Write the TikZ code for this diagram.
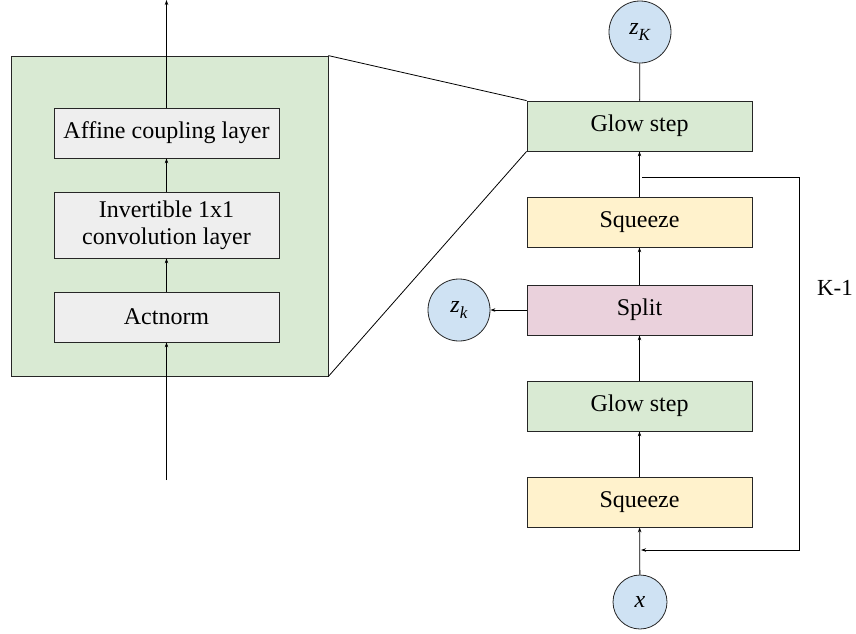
\documentclass[tikz,border=0pt]{standalone}
\usepackage{fontspec}
\setmainfont{Liberation Serif}
\usetikzlibrary{arrows.meta}

\definecolor{glowgreen}{HTML}{D9EAD3}
\definecolor{layergray}{HTML}{EEEEEE}
\definecolor{squeezeyellow}{HTML}{FFF2CC}
\definecolor{splitpink}{HTML}{EAD1DC}
\definecolor{varblue}{HTML}{CFE2F3}

\newcommand{\latent}[1]{\textit{z}\raisebox{-0.6ex}{\fontsize{17}{17}\selectfont\textit{#1}}}

\begin{document}
\begin{tikzpicture}[x=1pt,y=-1pt,
    box/.style={rectangle,draw=black!85,line width=0.8pt,inner sep=0pt,
                font=\fontsize{24}{27}\selectfont,align=center},
    layer/.style={box,fill=layergray,minimum width=225pt,minimum height=50pt},
    unit/.style={box,minimum width=225pt,minimum height=50pt},
    var/.style={circle,draw=black!85,line width=0.8pt,fill=varblue,inner sep=0pt,
                font=\fontsize{24}{24}\selectfont},
    flow/.style={-{Stealth[length=5pt,width=3.5pt]},line width=0.8pt},
    ]
    \useasboundingbox (0,0) rectangle (856,633);
    % zoomed glow step
    \node[box,fill=glowgreen,minimum width=317pt,minimum height=320pt] (stepbox) at (169.5,216) {};
    \node[layer] (affine) at (166.5,133) {Affine coupling layer};
    \node[layer,minimum height=66pt] (conv) at (166.5,225) {Invertible 1x1\\convolution layer};
    \node[layer] (actnorm) at (166.5,317) {Actnorm};
    \coordinate (in) at (166.5,480);
    \coordinate (out) at (166.5,0);
    \draw[flow] (in) -- (actnorm);
    \draw[flow] (actnorm) -- (conv);
    \draw[flow] (conv) -- (affine);
    \draw[flow] (affine) -- (out);

    % multi-scale architecture
    \node[var,minimum size=62pt] (zK) at (640,32) {\latent{K}};
    \node[unit,fill=glowgreen] (glowA) at (639.5,126) {Glow step};
    \node[unit,fill=squeezeyellow] (squeezeA) at (639.5,222) {Squeeze};
    \node[unit,fill=splitpink] (split) at (639.5,310) {Split};
    \node[var,minimum size=62pt] (zk) at (459,310) {\latent{k}};
    \node[unit,fill=glowgreen] (glowB) at (639.5,406) {Glow step};
    \node[unit,fill=squeezeyellow] (squeezeB) at (639.5,502) {Squeeze};
    \node[var,minimum size=54pt] (x) at (640,602) {\textit{x}};
    \draw[flow] (x) -- (squeezeB);
    \draw[flow] (squeezeB) -- (glowB);
    \draw[flow] (glowB) -- (split);
    \draw[flow] (split) -- (zk);
    \draw[flow] (split) -- (squeezeA);
    \draw[flow] (squeezeA) -- (glowA);
    \draw[line width=0.8pt] (glowA) -- (zK);

    % repeat loop
    \coordinate (loopout) at (642,177);
    \coordinate (loopin) at (641,550);
    \draw[flow] (loopout) -- ++(157,0) |- (loopin);
    \node[font=\fontsize{23}{26}\selectfont] (repeat) at (835,288) {K-1};

    % zoom lines
    \draw[line width=0.8pt] (stepbox.north east) -- (glowA.north west);
    \draw[line width=0.8pt] (stepbox.south east) -- (glowA.south west);
\end{tikzpicture}
\end{document}
